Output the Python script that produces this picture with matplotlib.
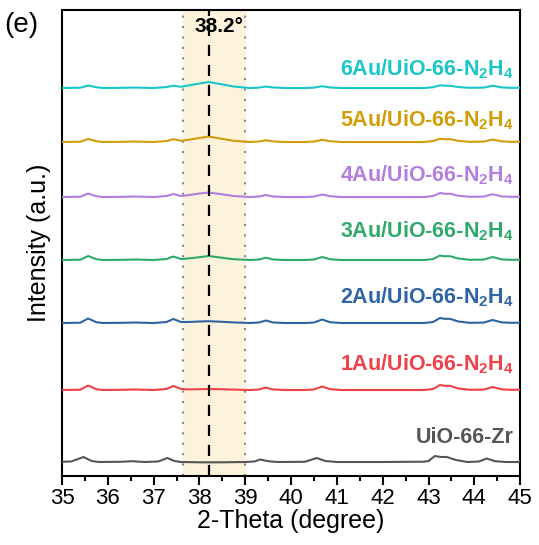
import matplotlib
matplotlib.use("Agg")
import matplotlib.pyplot as plt
from matplotlib.ticker import MultipleLocator

plt.rcParams['font.family'] = ['Liberation Sans', 'DejaVu Sans']
plt.rcParams['mathtext.fontset'] = 'custom'
plt.rcParams['mathtext.rm'] = 'Liberation Sans'
plt.rcParams['mathtext.bf'] = 'Liberation Sans:bold'
plt.rcParams['mathtext.default'] = 'bf'

# key points of the XRD traces (2-theta, relative intensity above baseline)
zr_theta = [35.0, 35.2, 35.47, 35.65, 35.8, 36.3, 36.52, 36.8, 37.1, 37.3, 37.45, 37.6,
            38.0, 38.5, 39.0, 39.2, 39.32, 39.5, 39.7, 40.3, 40.56, 40.75, 41.0, 42.0,
            42.9, 43.0, 43.14, 43.27, 43.4, 43.6, 43.85, 44.1, 44.27, 44.45, 44.7, 44.95, 45.0]
zr_int = [0.3, 0.5, 5.0, 1.0, 0.0, 0.2, 0.8, 0.0, 0.5, 4.0, 1.0, 0.0,
          -0.3, -0.3, 0.0, 0.5, 2.5, 0.8, 0.0, 0.2, 4.0, 1.0, 0.0, 0.0,
          0.3, 1.0, 6.0, 5.0, 5.0, 2.0, 0.0, 0.5, 3.5, 0.8, 0.0, 0.0, 0.8]

au_theta = [35.0, 35.4, 35.57, 35.75, 35.9, 36.3, 36.6, 37.0, 37.28, 37.43, 37.6, 37.75,
            38.0, 38.2, 38.45, 38.75, 39.1, 39.3, 39.45, 39.6, 39.85, 40.3, 40.5, 40.68,
            40.85, 41.1, 42.0, 42.9, 43.1, 43.25, 43.35, 43.47, 43.65, 43.9, 44.2, 44.4,
            44.6, 44.8, 45.0]
au1_int = [0, 0.3, 4.5, 0.8, 0, 0.2, 0.5, 0, 1.0, 4.0, 1.0, 0.6,
           0.8, 1.0, 0.8, 0.4, 0, 0.5, 2.5, 0.6, 0, 0, 0.5, 3.5,
           0.8, 0, 0, 0, 1.0, 5.0, 4.2, 4.2, 1.5, 0.2, 0.4, 3.0,
           0.6, 0.2, 0.3]
au2_int = [0, 0.3, 4.5, 0.8, 0, 0.2, 0.5, 0, 1.0, 4.0, 1.0, 1.0,
           1.5, 1.8, 1.3, 0.6, 0, 0.5, 2.5, 0.6, 0, 0, 0.5, 3.5,
           0.8, 0, 0, 0, 1.0, 5.0, 4.2, 4.2, 1.5, 0.2, 0.4, 3.0,
           0.6, 0.2, 0.3]
au3_int = [0, 0.3, 4.0, 0.8, 0, 0.2, 0.5, 0, 1.0, 3.5, 1.0, 1.5,
           2.8, 4.0, 2.5, 0.8, 0, 0.5, 2.3, 0.6, 0, 0, 0.5, 3.0,
           0.8, 0, 0, 0, 1.0, 4.5, 3.8, 3.8, 1.5, 0.2, 0.4, 3.0,
           0.6, 0.2, 0.3]
au4_int = [0, 0.3, 3.5, 0.8, 0, 0.2, 0.5, 0, 1.0, 3.0, 1.0, 1.8,
           3.5, 4.5, 3.0, 1.0, 0, 0.5, 2.0, 0.6, 0, 0, 0.5, 2.5,
           0.8, 0, 0, 0, 1.0, 4.0, 3.3, 3.3, 1.3, 0.2, 0.4, 2.8,
           0.6, 0.2, 0.3]
au5_int = [0, 0.3, 3.0, 0.8, 0, 0.2, 0.5, 0, 1.0, 2.8, 1.2, 2.2,
           4.0, 5.5, 3.5, 1.2, 0, 0.5, 1.8, 0.6, 0, 0, 0.5, 2.2,
           0.8, 0, 0, 0, 1.0, 3.2, 2.8, 2.8, 1.2, 0.2, 0.4, 2.5,
           0.6, 0.2, 0.3]
au6_int = [0, 0.3, 2.5, 0.8, 0, 0.2, 0.5, 0, 1.0, 2.3, 1.3, 2.5,
           4.5, 6.0, 4.0, 1.5, 0, 0.4, 1.5, 0.6, 0, 0, 0.4, 1.8,
           0.6, 0, 0, 0, 0.8, 2.7, 2.3, 2.3, 1.0, 0.2, 0.4, 2.3,
           0.6, 0.2, 0.3]

names = ['UiO-66-Zr',
         r'1Au/UiO-66-N$_2$H$_4$', r'2Au/UiO-66-N$_2$H$_4$', r'3Au/UiO-66-N$_2$H$_4$',
         r'4Au/UiO-66-N$_2$H$_4$', r'5Au/UiO-66-N$_2$H$_4$', r'6Au/UiO-66-N$_2$H$_4$']
colors = ['#555555', '#ee4148', '#2e64a3', '#2faa6b', '#b27fe0', '#d19e0a', '#19c6c9']
offsets = [14, 86, 153, 216, 279, 334, 388]
label_gap = [19, 20, 20, 23, 16, 16, 13]

thetas = [zr_theta] + [au_theta] * 6
intensities = [zr_int, au1_int, au2_int, au3_int, au4_int, au5_int, au6_int]

au_peak = 38.2
shade_lo, shade_hi = 37.65, 39.0

fig = plt.figure(figsize=(5.39, 5.45), dpi=100)
ax = fig.add_axes([0.115, 0.1266, 0.85, 0.855])

ax.axvspan(shade_lo, shade_hi, color='#fdf3dc', zorder=0)
ax.axvline(shade_lo, color='#888888', ls=(0, (1, 4)), lw=1.5, zorder=1)
ax.axvline(shade_hi, color='#888888', ls=(0, (1, 4)), lw=1.5, zorder=1)
ax.axvline(au_peak, color='black', ls=(0, (5, 4)), lw=1.6, zorder=4)

for x, y, off, c, name, gap in zip(thetas, intensities, offsets, colors, names, label_gap):
    ax.plot(x, [v + off for v in y], color=c, lw=1.5, zorder=3)
    ax.text(44.85, off + gap, name, color=c, fontsize=15.5, fontweight='bold',
            ha='right', va='baseline')

ax.text(38.43, 450, '38.2°', fontsize=15, fontweight='bold', ha='center', va='center', zorder=5)

ax.set_xlim(35, 45)
ax.set_ylim(0, 466)
ax.xaxis.set_major_locator(MultipleLocator(1))
ax.xaxis.set_minor_locator(MultipleLocator(0.5))
ax.tick_params(axis='x', which='major', direction='out', length=6.5, width=1.5,
               labelsize=16, pad=2)
ax.tick_params(axis='x', which='minor', direction='out', length=3.5, width=1.5)
ax.set_yticks([])
for s in ax.spines.values():
    s.set_linewidth(1.5)

ax.set_xlabel('2-Theta (degree)', fontsize=18, labelpad=0)
ax.set_ylabel('Intensity (a.u.)', fontsize=18, labelpad=8)
fig.text(0.008, 0.955, '(e)', fontsize=20, va='center')

fig.savefig('out.png', dpi=100)
